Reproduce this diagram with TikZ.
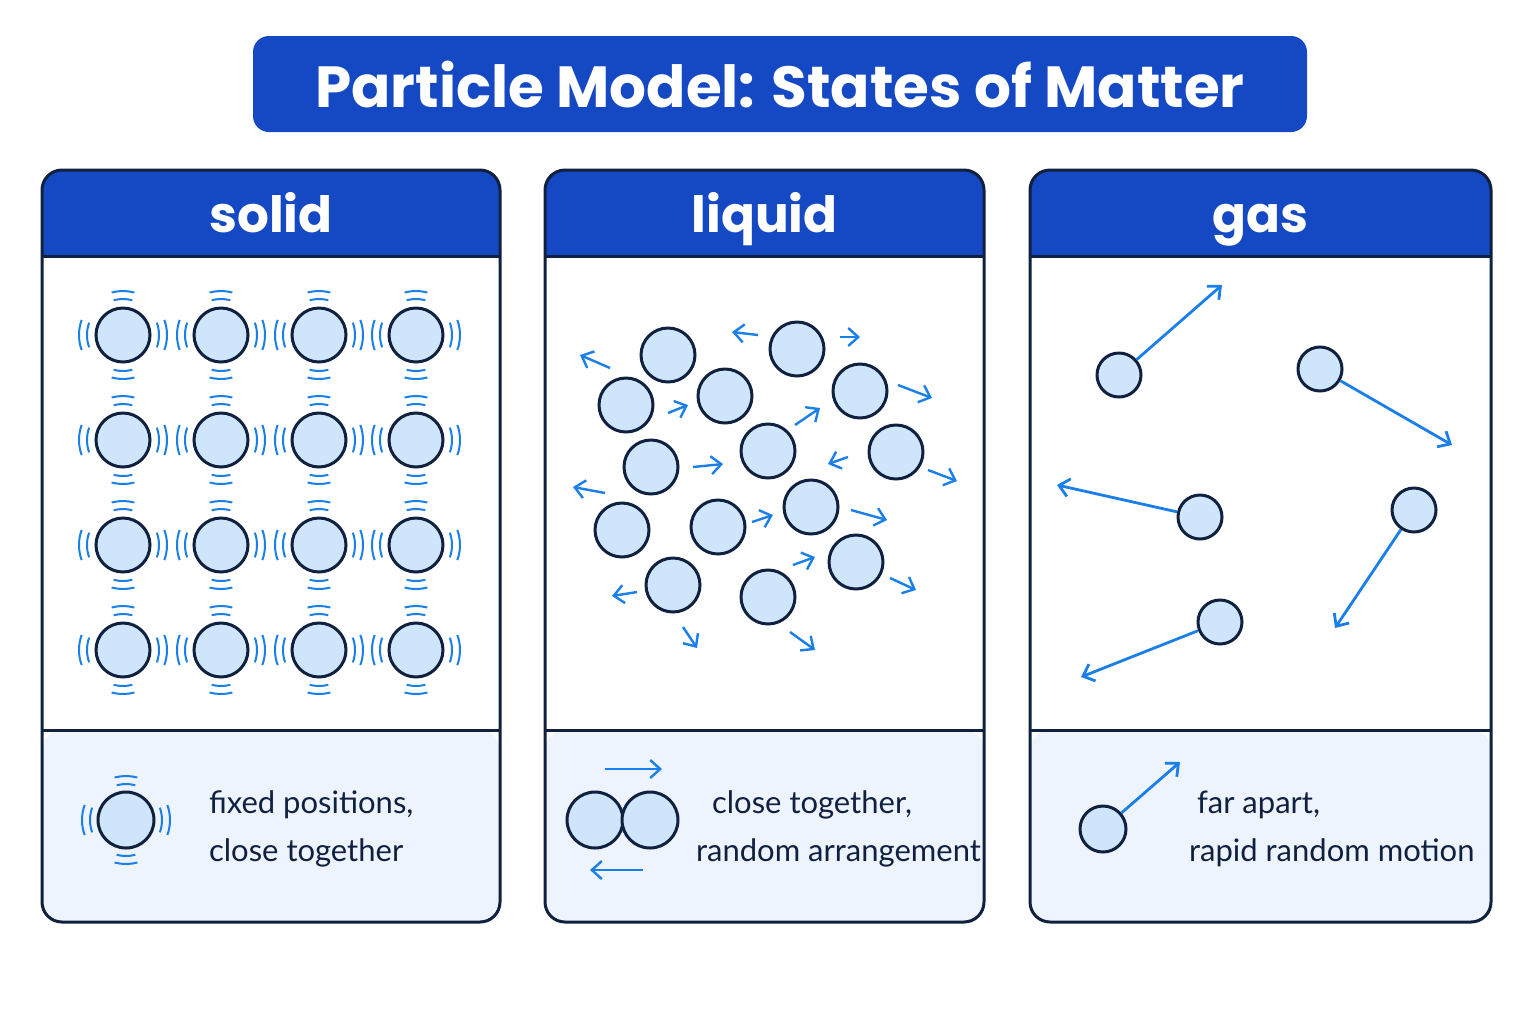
\documentclass[tikz,border=0pt]{standalone}
\usepackage{fontspec}
\setmainfont{Poppins}
\newfontfamily\labelfont{Lato}
\usetikzlibrary{arrows.meta}
\definecolor{hdblue}{HTML}{1549C4}
\definecolor{pfill}{HTML}{CFE5FB}
\definecolor{pline}{HTML}{10203F}
\definecolor{arblue}{HTML}{1A7FE8}
\definecolor{lowbg}{HTML}{EEF4FD}
\tikzset{
  particle/.style={circle,draw=pline,fill=pfill,line width=1.5pt,minimum size=#1,inner sep=0pt},
  particle/.default=27pt,
  move/.style={arblue,line width=1.2pt,-{Straight Barb[length=5pt,width=9pt]}},
  vib/.style={arblue,line width=1pt},
  panel/.style={draw=pline,line width=1.5pt,rounded corners=10pt},
  label/.style={anchor=west,font=\labelfont\fontsize{15.5}{18}\selectfont,text=pline}
}
% vibration marks around a particle
\newcommand{\vibmarks}[2]{%
  \foreach \r in {36,44}{
    \draw[vib] (#1,#2) ++(160:\r) arc (160:200:\r);
    \draw[vib] (#1,#2) ++(-20:\r) arc (-20:20:\r);
    \draw[vib] (#1,#2) ++(75:\r) arc (75:105:\r);
    \draw[vib] (#1,#2) ++(255:\r) arc (255:285:\r);
  }}
\begin{document}
\begin{tikzpicture}[x=0.5pt,y=-0.5pt]
  \useasboundingbox[fill=white] (0,0) rectangle (1536,1024);

  %title:
  \node[fill=hdblue,rounded corners=8pt,minimum width=527pt,minimum height=48pt,
        text=white,font=\bfseries\fontsize{29}{34}\selectfont] (title) at (780,84)
        {Particle Model: States of Matter};

  %panels:
  \foreach \xa/\xb/\name in {42/500/solid,545/984/liquid,1030/1491/gas}{
    \fill[lowbg,rounded corners=10pt] (\xa,730) rectangle (\xb,922);
    \fill[hdblue,rounded corners=10pt] (\xa,170) rectangle (\xb,256);
    \fill[hdblue] (\xa,215) rectangle (\xb,256);
    \draw[pline,line width=1.5pt] (\xa,256) -- (\xb,256);
    \draw[pline,line width=1.5pt] (\xa,730) -- (\xb,730);
    \draw[panel] (\xa,170) rectangle (\xb,922);
    \node[text=white,anchor=base,font=\bfseries\fontsize{25}{30}\selectfont] (head-\name)
      at ({(\xa+\xb)/2},232) {\name};
  }

  %solid lattice:
  \foreach \x [count=\i] in {123,221,319,416}
    \foreach \y [count=\j] in {335,440,545,650}{
      \vibmarks{\x}{\y}
      \node[particle] (s\i\j) at (\x,\y) {};
    }

  %liquid particles:
  \foreach \x/\y [count=\k] in {668/355,797/349,626/405,725/396,860/391,651/467,768/451,
      896/452,622/530,718/527,811/507,673/585,768/597,856/562}
    \node[particle] (l\k) at (\x,\y) {};
  \foreach \ax/\ay/\bx/\by in {610/368/580/355,758/335/732/332,840/337/860/337,
      898/385/932/398,668/413/688/405,795/425/820/408,848/457/828/464,693/467/723/464,
      928/470/957/481,605/493/573/487,752/522/773/515,851/510/887/520,793/565/815/557,
      890/578/916/590,637/592/612/596,683/627/697/648,790/632/815/650}
    \draw[move] (\ax,\ay) -- (\bx,\by);

  %gas particles:
  \foreach \x/\y/\tx/\ty [count=\k] in {1119/375/1222/285,1320/369/1452/445,
      1200/517/1057/485,1414/510/1335/628,1220/622/1081/677}{
    \node[particle=22pt] (g\k) at (\x,\y) {};
    \coordinate (gt\k) at (\tx,\ty);
    \draw[move,line width=1.4pt] (g\k) -- (gt\k);
  }

  %legend:
  \vibmarks{126}{820}
  \node[particle=28pt] (ks) at (126,820) {};
  \node[label] (ts1) at (202,805) {fixed positions,};
  \node[label] (ts2) at (202,853) {close together};

  \node[particle=28pt] (kl1) at (595,820) {};
  \node[particle=28pt] (kl2) at (650,820) {};
  \draw[move] (605,769) -- (662,769);
  \draw[move] (643,870) -- (590,870);
  \node[label] (tl1) at (705,805) {close together,};
  \node[label] (tl2) at (689,853) {random arrangement};

  \node[particle=23pt] (kg) at (1103,829) {};
  \coordinate (kgt) at (1180,762);
  \draw[move,line width=1.4pt] (kg) -- (kgt);
  \node[label] (tg1) at (1190,805) {far apart,};
  \node[label] (tg2) at (1182,853) {rapid random motion};
\end{tikzpicture}
\end{document}
